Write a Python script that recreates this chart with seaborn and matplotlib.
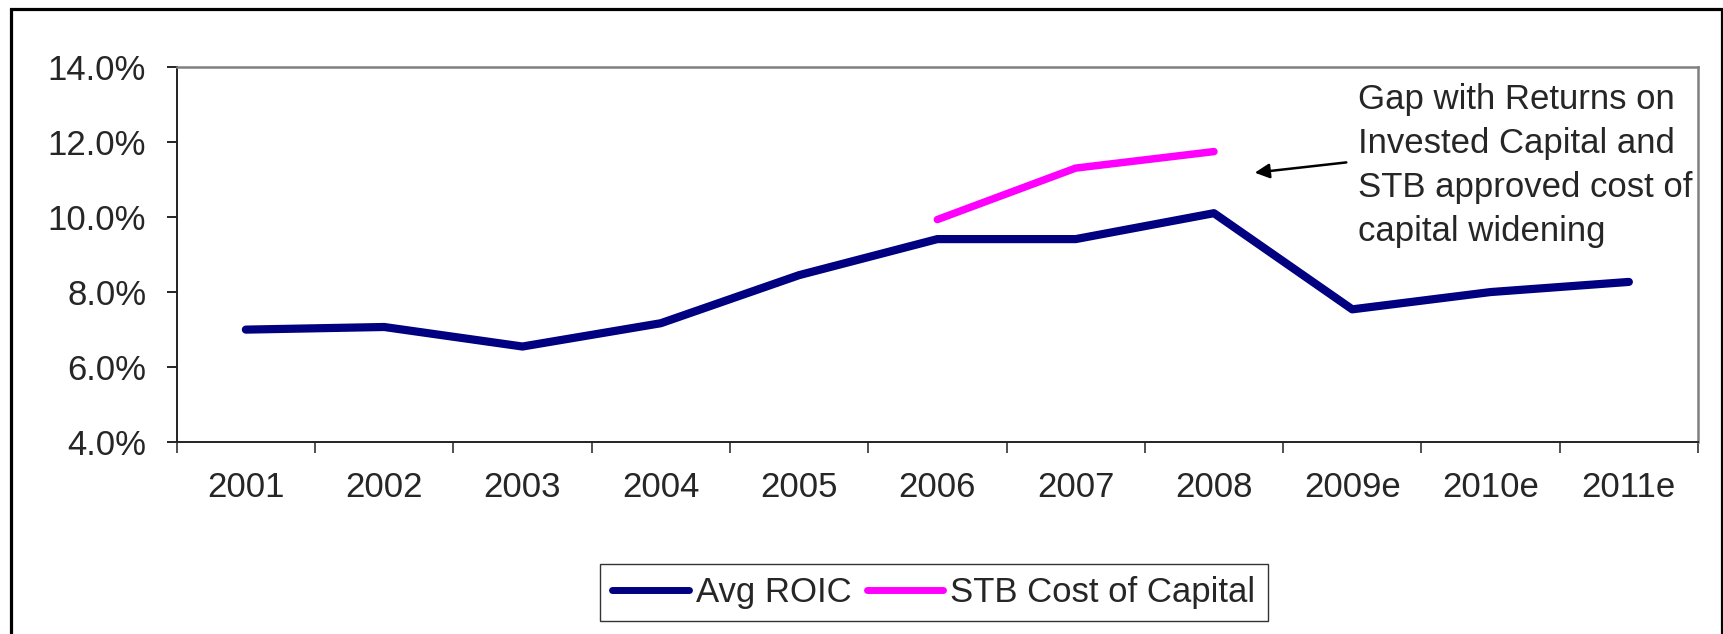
import numpy as np
import pandas as pd
import matplotlib
matplotlib.use("Agg")
import matplotlib.pyplot as plt
from matplotlib.patches import Rectangle
from matplotlib.ticker import FixedLocator, FuncFormatter
import seaborn as sns

# values (percent)
years = ['2001', '2002', '2003', '2004', '2005', '2006', '2007', '2008', '2009e', '2010e', '2011e']
avg_roic = [7.0, 7.07, 6.55, 7.17, 8.45, 9.41, 9.41, 10.1, 7.54, 8.0, 8.27]
stb_years = ['2006', '2007', '2008']
stb_cost = [9.93, 11.3, 11.74]
y_ticks = [4, 6, 8, 10, 12, 14]

note = "Gap with Returns on\nInvested Capital and\nSTB approved cost of\ncapital widening"

roic_df = pd.DataFrame({'year': years, 'value': avg_roic})
stb_df = pd.DataFrame({'year': stb_years, 'value': stb_cost})

sns.set_style('white')
plt.rcParams['font.family'] = ['Liberation Sans', 'DejaVu Sans']

W, H = 1723, 634
fig = plt.figure(figsize=(W / 100, H / 100), dpi=100)
ax = fig.add_axes([176.7 / W, 1 - 442.3 / H, (1698 - 176.7) / W, (442.3 - 66.7) / H])

sns.lineplot(data=roic_df, x='year', y='value', ax=ax, color='#000080', linewidth=5.9,
             solid_capstyle='round', solid_joinstyle='round', label='Avg ROIC', sort=False)
sns.lineplot(data=stb_df, x='year', y='value', ax=ax, color='#FF00FF', linewidth=5.4,
             solid_capstyle='round', solid_joinstyle='round', label='STB Cost of Capital', sort=False)

ax.set_xlim(-0.5, len(years) - 0.5)
ax.set_ylim(4, 14)
ax.set_xlabel('')
ax.set_ylabel('')

ax.yaxis.set_major_locator(FixedLocator(y_ticks))
ax.yaxis.set_major_formatter(FuncFormatter(lambda v, p: f'{v:.1f}%'))
ax.tick_params(axis='y', which='major', direction='out', length=7, width=1.2,
               color='black', labelsize=25, pad=15, left=True)

ax.set_xticks(np.arange(len(years)))
ax.set_xticklabels(years)
ax.set_xticks(np.arange(len(years) + 1) - 0.5, minor=True)
ax.tick_params(axis='x', which='major', length=0, labelsize=25, pad=21)
ax.tick_params(axis='x', which='minor', direction='out', length=8, width=1.2,
               color='#333333', bottom=True)

for side in ['left', 'bottom']:
    ax.spines[side].set_color('#222222')
    ax.spines[side].set_linewidth(1.4)
for side in ['top', 'right']:
    ax.spines[side].set_color('#808080')
    ax.spines[side].set_linewidth(1.8)

# annotation text + arrow
ax.text(8.04, 13.57, note, fontsize=25, va='top', ha='left', linespacing=1.43, clip_on=False)
ax.annotate('', xy=(7.275, 11.17), xytext=(7.977, 11.46),
            arrowprops=dict(arrowstyle='-|>', color='black', lw=1.8, mutation_scale=22))

leg = ax.legend(loc='center', bbox_to_anchor=(934 / W, 41.5 / H), bbox_transform=fig.transFigure,
                ncol=2, fontsize=25, frameon=True, fancybox=False, handlelength=2.2,
                handletextpad=0.2, columnspacing=0.45, borderpad=0.35, borderaxespad=0)
leg.get_frame().set_edgecolor('black')
leg.get_frame().set_linewidth(1.0)
for ln in leg.get_lines():
    ln.set_linewidth(5.0)
    ln.set_solid_capstyle('round')

# outer chart border
fig.patches.append(Rectangle((10.5 / W, -0.05), (1722 - 10.5) / W, 1.05 - 8.5 / H,
                             transform=fig.transFigure, fill=False, edgecolor='black',
                             linewidth=2.3, clip_on=False))

fig.savefig('out.png', dpi=100)
